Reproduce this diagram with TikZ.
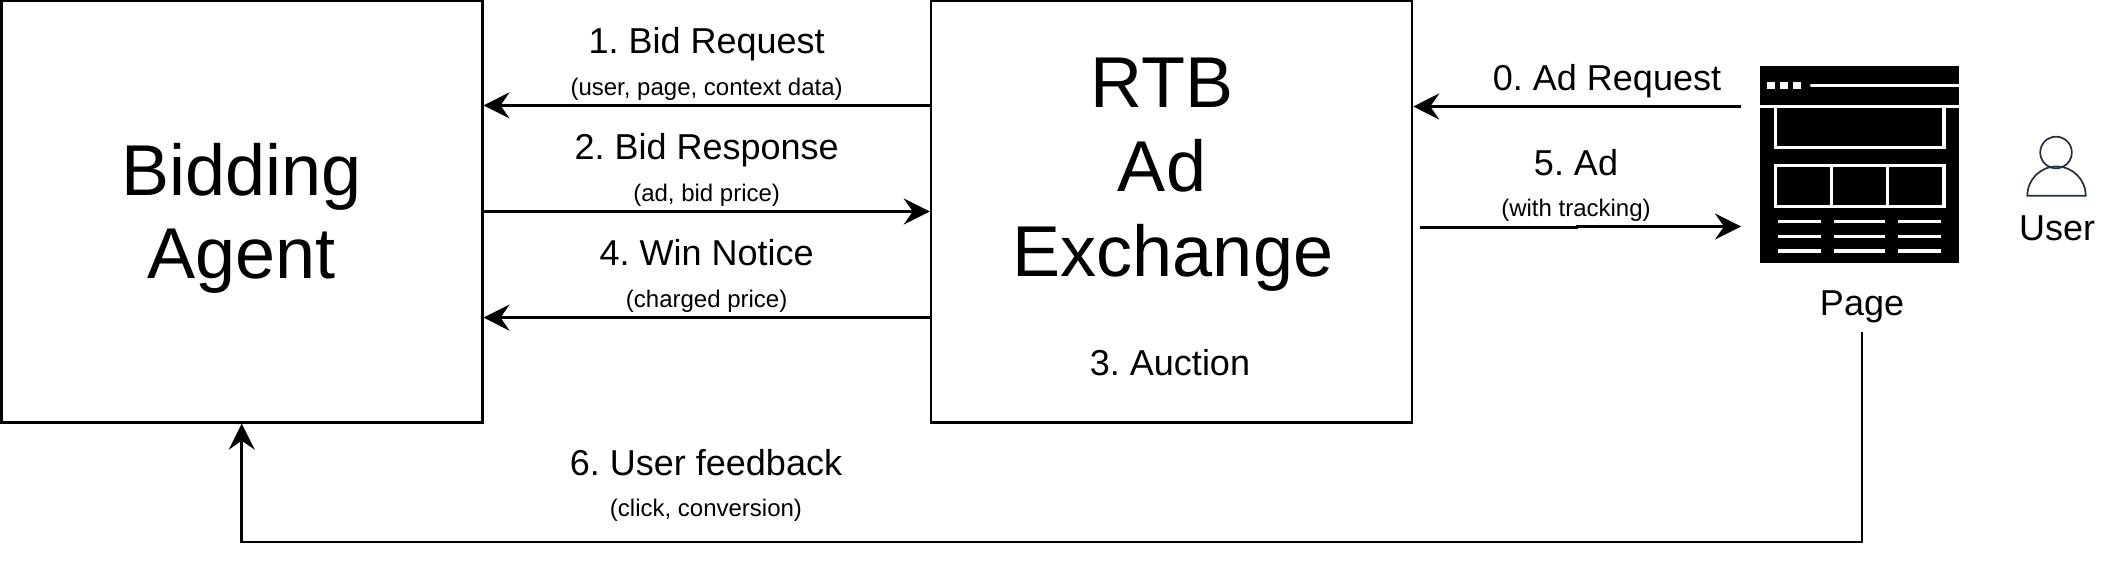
\documentclass[tikz,border=0pt]{standalone}
\usepackage{fontspec}
\setmainfont{Liberation Sans}
\usepackage{tikz}
\usetikzlibrary{arrows.meta,calc}
\definecolor{usericon}{RGB}{35,47,62}
\frenchspacing

\begin{document}
\begin{tikzpicture}[x=0.5pt, y=-0.5pt]
  % Define styles
  \tikzstyle{system} = [rectangle, draw, line width=1.35pt, minimum width=240.4pt, minimum height=210.85pt, inner sep=0pt]
  \tikzstyle{bigtext} = [anchor=base, inner sep=0pt, font=\fontsize{36}{42}\selectfont]
  \tikzstyle{arrow} = [line width=1.35pt, -{Stealth[length=13pt, width=13pt, inset=4.5pt]}]
  \tikzstyle{caption} = [anchor=base, inner sep=0pt, font=\fontsize{18}{21}\selectfont]
  \tikzstyle{subcaption} = [anchor=base, inner sep=0pt, font=\fontsize{12}{14}\selectfont]
  \tikzstyle{pageline} = [white, line width=1.7pt]

  \useasboundingbox (0,0) rectangle (2118,567);

  % Main system components
  \node [system] (bidding) at (241.75,211.5) {};
  \node [bigtext] (bidname) at (241.75,195) {Bidding};
  \node [bigtext] (agentname) at (241.75,278.5) {Agent};
  \node [system] (exchange) at (1171.5,211.5) {};
  \node [bigtext] (rtb) at (1162,107.4) {RTB};
  \node [bigtext] (adname) at (1162,191.7) {Ad};
  \node [bigtext] (exname) at (1173,276.7) {Exchange};
  \node [caption] (auction) at (1170,375.4) {3. Auction};

  % Page icon
  \node [rectangle, fill=black, outer sep=0pt, minimum width=99.5pt, minimum height=98.5pt, inner sep=0pt] (page) at (1859.5,164.5) {};
  \node [caption, inner sep=4.8pt] (pagename) at (1862,315) {Page};
  \begin{scope}[shift={(page.north west)}]
    \draw [pageline] (0,40.7) -- (199,40.7);
    \foreach \dotx in {7,20,32.7}
      \fill [white] (\dotx,15.7) rectangle ++(8,7.3);
    \draw [pageline, line cap=round] (51.3,19.7) -- (199,19.7);
    \draw [pageline] (15.7,40.7) -- (15.7,81.7) -- (184,81.7) -- (184,40.7);
    \draw [pageline] (15.7,99.3) rectangle (184,140.7);
    \draw [pageline] (71.7,99.3) -- (71.7,140.7);
    \draw [pageline] (127.7,99.3) -- (127.7,140.7);
    \foreach \liney in {155.7,170.3,185} {
      \draw [pageline] (18,\liney) -- (61.3,\liney);
      \draw [pageline] (74,\liney) -- (125.3,\liney);
      \draw [pageline] (137.7,\liney) -- (181.3,\liney);
    }
  \end{scope}

  % User icon
  \node [circle, draw=usericon, line width=0.85pt, minimum size=15.8pt, inner sep=0pt] (userhead) at (2056,152.5) {};
  \draw [usericon, line width=0.85pt] (2027.3,195.7) arc[start angle=180, end angle=360, x radius=29.2, y radius=29.2] -- cycle;
  \node [caption] (username) at (2057,240.3) {User};

  % Anchor points for the arrows
  \coordinate (rowone) at ($(exchange.north west)!.25!(exchange.south west)$);
  \coordinate (rowtwo) at ($(exchange.north west)!.5!(exchange.south west)$);
  \coordinate (rowthree) at ($(exchange.north west)!.75!(exchange.south west)$);
  \coordinate (pageout) at (1741,106.5);
  \coordinate (adstart) at (1420,227.5);
  \coordinate (adjog) at (1577,226.5);
  \coordinate (adend) at (1741,226.5);
  \coordinate (feedcorner) at (241.75,542);

  % Arrows with labels for data flow
  \draw [arrow] (rowone) -- (rowone -| bidding.east)
    node[midway, caption, yshift=26pt] (bidreq) {1. Bid Request}
    node[midway, subcaption, yshift=4.9pt] (bidreqsub) {(user, page, context data)};
  \draw [arrow] (rowtwo -| bidding.east) -- (rowtwo)
    node[midway, caption, yshift=26pt] (bidresp) {2. Bid Response}
    node[midway, subcaption, yshift=4.9pt] (bidrespsub) {(ad, bid price)};
  \draw [arrow] (rowthree) -- (rowthree -| bidding.east)
    node[midway, caption, yshift=26pt] (winnotice) {4. Win Notice}
    node[midway, subcaption, yshift=4.9pt] (winnoticesub) {(charged price)};

  \draw [arrow] (pageout) -- (pageout -| exchange.east);
  \node [caption] (adreq) at (1607,90.4) {0. Ad Request};
  \draw [arrow] (adstart) -- (adstart -| adjog) -- (adjog) -- (adend);
  \node [caption] (adlabel) at (1576,175) {5. Ad};
  \node [subcaption] (adsub) at (1576,216) {(with tracking)};

  \draw [arrow] (pagename.south) |- (feedcorner) -- (bidding.south);
  \node [caption] (feedback) at (706,475.2) {6. User feedback};
  \node [subcaption] (feedbacksub) at (706,516) {(click, conversion)};
\end{tikzpicture}
\end{document}
